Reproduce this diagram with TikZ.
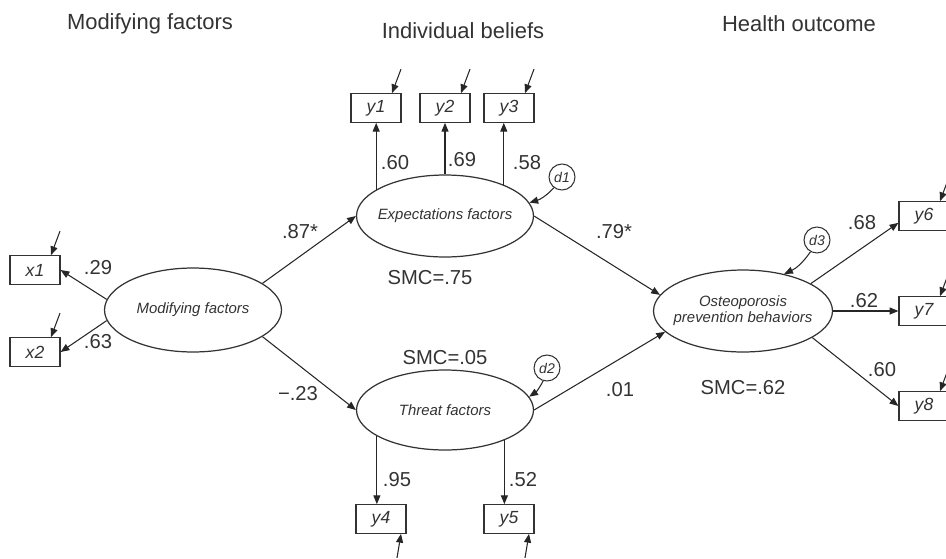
\documentclass[tikz,border=0pt]{standalone}
\usepackage{fontspec}
\setmainfont{Liberation Sans}
\usetikzlibrary{arrows.meta, positioning, shapes.geometric}

\begin{document}
\begin{tikzpicture}[x=0.02cm, y=-0.02cm,
    latent/.style={ellipse, draw=black!80, line width=0.7pt, minimum width=3.54cm, minimum height=1.64cm, inner sep=0pt, text=black!80, font=\fontsize{8.5}{10}\selectfont\itshape},
    observed/.style={rectangle, draw=black!80, line width=0.7pt, minimum width=1cm, minimum height=0.57cm, inner sep=0pt, text=black!80, font=\fontsize{10}{12}\selectfont\itshape},
    resid/.style={circle, draw=black!80, line width=0.6pt, minimum size=0.52cm, inner sep=0pt, text=black!80, font=\fontsize{8}{9}\selectfont\itshape},
    coef/.style={text=black!80, font=\fontsize{11.5}{13}\selectfont},
    heading/.style={text=black!80, font=\fontsize{12.5}{14}\selectfont},
    arrow/.style={-{Triangle[length=5pt,width=4pt]}, draw=black!85, line width=0.6pt}
]
    \useasboundingbox (0,0) rectangle (946,558);

    % Column headings
    \node[heading] (hmod) at (150,24) {Modifying factors};
    \node[heading] (hbel) at (463,31) {Individual beliefs};
    \node[heading] (hout) at (799,24) {Health outcome};

    % Latent variables
    \node[latent, minimum height=1.68cm] (mod) at (193,310) {\makebox[0pt]{Modifying factors}};
    \node[latent] (exp) at (445,216) {\makebox[0pt]{Expectations factors}};
    \node[latent, minimum height=1.6cm] (thr) at (445,410) {\makebox[0pt]{Threat factors}};
    \node[latent, minimum width=3.58cm] (ost) at (743,311) {\makebox[0pt]{\begin{tabular}{@{}c@{}}Osteoporosis\\[-1pt] prevention behaviors\end{tabular}}};

    % Observed variables
    \node[observed] (x1) at (35,270) {x1};
    \node[observed] (x2) at (35,352) {x2};
    \node[observed] (y1) at (376,108) {y1};
    \node[observed] (y2) at (445,108) {y2};
    \node[observed] (y3) at (509,108) {y3};
    \node[observed] (y4) at (381,519) {y4};
    \node[observed] (y5) at (509,519) {y5};
    \node[observed] (y6) at (924,216) {y6};
    \node[observed] (y7) at (924,311) {y7};
    \node[observed] (y8) at (924,406) {y8};

    % Disturbances
    \node[resid] (d1) at (562,177) {d1};
    \node[resid] (d2) at (547,368) {d2};
    \node[resid] (d3) at (817,240) {d3};

    % Paths
    \draw[arrow] (mod.173) -- (x1.east);
    \draw[arrow] (mod.187) -- (x2.east);
    \draw[arrow] (mod.21) -- (exp.west);
    \draw[arrow] (mod.-21) -- (thr.west);
    \draw[arrow] (exp.east) -- (ost.169);
    \draw[arrow] (thr.east) -- (ost.195);
    \draw[arrow] (exp.159) -- (exp.159 |- y1.south);
    \draw[arrow] (exp.north) -- (y2.south);
    \draw[arrow] (exp.28) -- (exp.28 |- y3.south);
    \draw[arrow] (thr.201) -- (thr.201 |- y4.north);
    \draw[arrow] (thr.333) -- (thr.333 |- y5.north);
    \draw[arrow] (ost.22) -- (y6.195);
    \draw[arrow] (ost.east) -- (y7.west);
    \draw[arrow] (ost.-21) -- (y8.west);
    \draw[arrow] (d1) to[bend left=15] (exp.9);
    \draw[arrow] (d2) to[bend left=15] (thr.9);
    \draw[arrow] (d3) to[bend left=15] (ost.42);

    % Measurement errors
    \foreach \b in {x1,x2,y1,y2,y3,y6,y7,y8} {
        \coordinate (err-\b) at ([shift={(25,-24)}]\b.north);
        \draw[arrow] (err-\b) -- ([shift={(16,0)}]\b.north);
    }
    \foreach \b in {y4,y5} {
        \coordinate (err-\b) at ([shift={(16,24)}]\b.south);
        \draw[arrow] (err-\b) -- ([shift={(20,0)}]\b.south);
    }

    % Coefficients
    \node[coef] (c29) at (98,268) {.29};
    \node[coef] (c63) at (98,342) {.63};
    \node[coef] (c87) at (300,232) {.87*};
    \node[coef] (c23) at (298,394) {−.23};
    \node[coef] (c79) at (614,232) {.79*};
    \node[coef] (c01) at (620,390) {.01};
    \node[coef] (c60a) at (395,163) {.60};
    \node[coef] (c69) at (462,160) {.69};
    \node[coef] (c58) at (527,163) {.58};
    \node[coef] (c95) at (397,480) {.95};
    \node[coef] (c52) at (523,480) {.52};
    \node[coef] (c68) at (862,223) {.68};
    \node[coef] (c62) at (864,301) {.62};
    \node[coef] (c60b) at (882,370) {.60};

    % Squared multiple correlations
    \node[coef] (smc1) at (430,278) {SMC=.75};
    \node[coef] (smc2) at (445,358) {SMC=.05};
    \node[coef] (smc3) at (743,388) {SMC=.62};
\end{tikzpicture}
\end{document}
